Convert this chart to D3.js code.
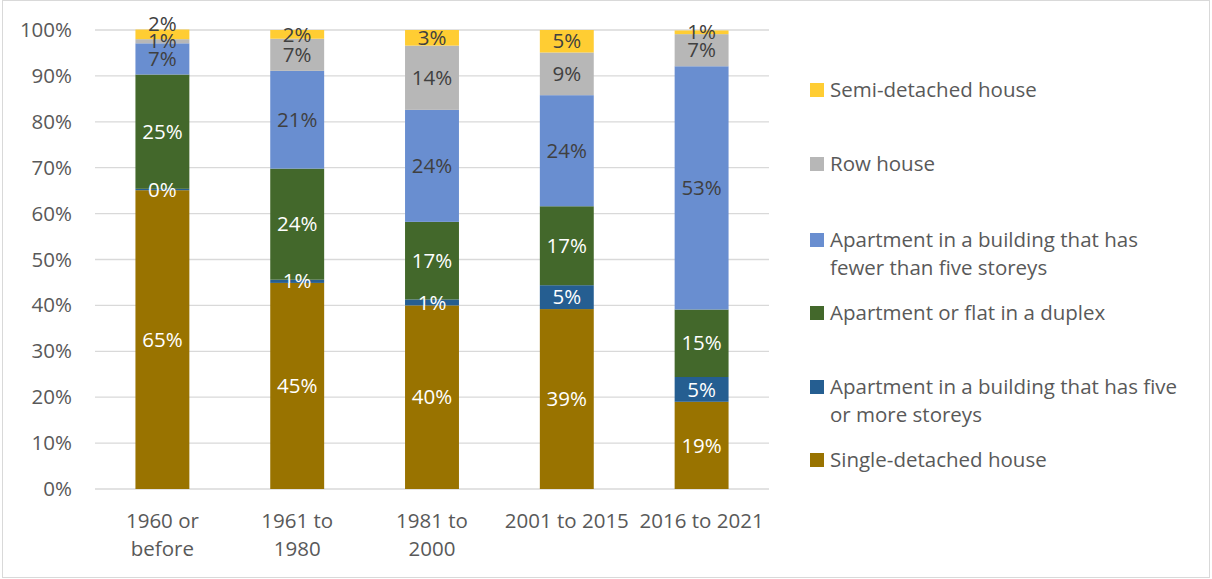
<!DOCTYPE html>
<html>
<head>
<meta charset="utf-8">
<script src="https://cdn.jsdelivr.net/npm/d3@7"></script>
<style>
  html, body { margin: 0; padding: 0; background: #fff; }
  svg { display: block; font-family: "Open Sans", sans-serif; }
</style>
</head>
<body>
<svg id="chart" width="1212" height="579"></svg>
<script>
// ---- data ----
const categories = [["1960 or", "before"], ["1961 to", "1980"], ["1981 to", "2000"], ["2001 to 2015"], ["2016 to 2021"]];
const categoryKeys = ["1960 or before", "1961 to 1980", "1981 to 2000", "2001 to 2015", "2016 to 2021"];
const seriesNames = [
  "Single-detached house",
  "Apartment in a building that has five or more storeys",
  "Apartment or flat in a duplex",
  "Apartment in a building that has fewer than five storeys",
  "Row house",
  "Semi-detached house"
];
const singleDetached = [65.1, 44.9, 40.0, 39.2, 19.0];
const aptFivePlus    = [0.3, 0.7, 1.3, 5.2, 5.4];
const duplex         = [24.9, 24.2, 16.9, 17.2, 14.7];
const aptFewerFive   = [6.8, 21.3, 24.4, 24.2, 53.0];
const rowHouse       = [0.9, 7.0, 14.0, 9.3, 7.0];
const semiDetached   = [2.1, 1.9, 3.4, 4.9, 0.8];
const yTicks = [0, 10, 20, 30, 40, 50, 60, 70, 80, 90, 100];
const legendLines = [
  ["Semi-detached house"],
  ["Row house"],
  ["Apartment in a building that has", "fewer than five storeys"],
  ["Apartment or flat in a duplex"],
  ["Apartment in a building that has five", "or more storeys"],
  ["Single-detached house"]
];

// ---- styles ----
const colors = ["#997300", "#255E91", "#43682B", "#698ED0", "#B7B7B7", "#FFCD33"];
const labelColors = ["#ffffff", "#ffffff", "#ffffff", "#404040", "#404040", "#404040"];
const textColor = "#595959";
const fontSize = 20.5;

const seriesValues = [singleDetached, aptFivePlus, duplex, aptFewerFive, rowHouse, semiDetached];
const rows = categoryKeys.map((c, i) => {
  const r = { cat: c };
  seriesNames.forEach((s, j) => r[s] = seriesValues[j][i]);
  return r;
});
const stacked = d3.stack().keys(seriesNames)(rows);

const svg = d3.select("#chart");
// outer border
svg.append("rect").attr("x", 2.5).attr("y", 0.5).attr("width", 1207).attr("height", 577)
  .attr("fill", "#fff").attr("stroke", "#d9d9d9").attr("stroke-width", 1);

const x = d3.scaleBand().domain(categoryKeys).range([95, 769]).paddingInner(0.6).paddingOuter(0.3);
const y = d3.scaleLinear().domain([0, 100]).range([489, 30]);

// gridlines
svg.append("g").selectAll("line").data(yTicks).join("line")
  .attr("x1", 95).attr("x2", 769)
  .attr("y1", d => y(d)).attr("y2", d => y(d))
  .attr("stroke", "#d9d9d9").attr("stroke-width", 1.3);

// y axis labels
const yAxis = d3.axisLeft(y).tickValues(yTicks).tickFormat(d => d + "%").tickSize(0).tickPadding(0);
const yg = svg.append("g").attr("transform", "translate(72,0)").call(yAxis);
yg.select(".domain").remove();
yg.selectAll("text").attr("fill", textColor).style("font-size", fontSize + "px")
  .style("font-family", "'Open Sans', sans-serif");

// bars
const layers = svg.append("g").selectAll("g").data(stacked).join("g")
  .attr("fill", (d, i) => colors[i]);
layers.selectAll("rect").data(d => d).join("rect")
  .attr("x", d => x(d.data.cat))
  .attr("width", x.bandwidth())
  .attr("y", d => y(d[1]))
  .attr("height", d => y(d[0]) - y(d[1]));

// data label positions: segment centres, nudged up when too close (like Excel)
const minGap = 17.5;
const labelPos = stacked.map(layer => layer.map(d => y((d[0] + d[1]) / 2)));
categoryKeys.forEach((c, ci) => {
  for (let s = 1; s < stacked.length; s++) {
    const prev = labelPos[s - 1][ci];
    if (prev - labelPos[s][ci] < minGap && prev - labelPos[s][ci] > 0 && s === stacked.length - 1) {
      labelPos[s][ci] = prev - minGap;
    }
  }
});

const fmt = v => Math.round(v) + "%";
stacked.forEach((layer, i) => {
  svg.append("g").selectAll("text").data(layer).join("text")
    .attr("x", d => x(d.data.cat) + x.bandwidth() / 2)
    .attr("y", (d, j) => labelPos[i][j])
    .attr("dy", "0.35em")
    .attr("text-anchor", "middle")
    .attr("fill", labelColors[i])
    .style("font-size", fontSize + "px")
    .text(d => fmt(d[1] - d[0]));
});

// x labels
const xg = svg.append("g");
categories.forEach((lines, i) => {
  const t = xg.append("text")
    .attr("y", 521)
    .attr("text-anchor", "middle")
    .attr("fill", textColor)
    .style("font-size", fontSize + "px");
  lines.forEach((l, k) => {
    t.append("tspan").attr("x", x(categoryKeys[i]) + x.bandwidth() / 2)
      .attr("dy", k === 0 ? "0.35em" : "28px").text(l);
  });
});

// legend
const legendY = [90, 164, 240, 313, 387, 460];
const lg = svg.append("g");
legendLines.forEach((lines, i) => {
  const ci = seriesNames.length - 1 - i;
  lg.append("rect").attr("x", 810).attr("y", legendY[i] - 7).attr("width", 14).attr("height", 14)
    .attr("fill", colors[ci]);
  const t = lg.append("text").attr("y", legendY[i]).attr("fill", textColor)
    .style("font-size", fontSize + "px");
  lines.forEach((l, k) => {
    t.append("tspan").attr("x", 830).attr("dy", k === 0 ? "0.35em" : "28px").text(l);
  });
});
</script>
</body>
</html>
